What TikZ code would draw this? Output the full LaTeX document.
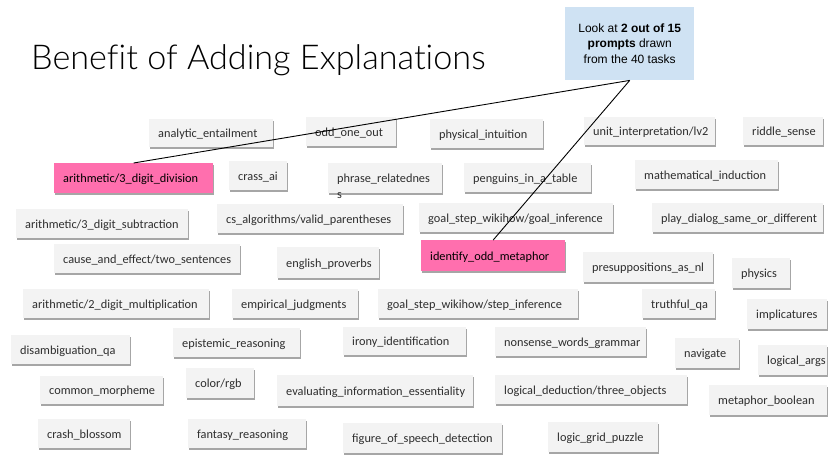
\documentclass[tikz,border=0pt]{standalone}
\usepackage{fontspec}
\setmainfont{Carlito}
\newfontfamily\titlefont[Ligatures=NoCommon]{Lato Light}
\newfontfamily\notefont{Liberation Sans}
\usetikzlibrary{shadows}

\definecolor{boxgray}{HTML}{F3F3F3}
\definecolor{hlpink}{HTML}{FF6FAE}
\definecolor{noteblue}{HTML}{CFE2F3}
\definecolor{labelgray}{HTML}{2E2E2E}

\tikzset{
  taskbox/.style={rectangle, fill=boxgray, anchor=north west, align=left,
    inner xsep=9pt, inner ysep=0pt, text height=10pt, text depth=0.5pt,
    font=\fontsize{12.3}{15}\selectfont, text=labelgray,
    drop shadow={shadow xshift=0.5pt, shadow yshift=-1.3pt, opacity=0.35, fill=black}},
  hlbox/.style={taskbox, fill=hlpink, text=black},
  notebox/.style={rectangle, fill=noteblue, anchor=north west, align=center,
    inner sep=0pt, font=\notefont\fontsize{12}{15.5}\selectfont},
  link/.style={draw=black, line width=0.9pt}
}

% \task[style]{name}{x}{y}{width}{height}{label}
\newcommand\task[7][taskbox]{%
  \pgfmathsetmacro\tasktw{#5-18}%
  \node[#1, minimum width=#5pt, minimum height=#6pt, text width=\tasktw pt] (#2) at (#3,#4) {#7};}

\begin{document}
\begin{tikzpicture}[x=1pt, y=-1pt]
\fill[white] (0,0) rectangle (838,460);
\useasboundingbox (0,0) rectangle (838,460);

\node[anchor=base west, inner sep=0pt, font=\titlefont\fontsize{34.2}{41}\selectfont] (title) at (31,70) {Benefit of Adding Explanations};

\node[notebox, minimum width=129pt, minimum height=73pt] (note) at (565,7)
  {Look at \textbf{2 out of 15}\\\textbf{prompts} drawn\\from the 40 tasks};

% row 1
\task{analytic}{149}{119}{124}{28}{analytic\_entailment}
\task{oddone}{306}{117}{90}{29}{odd\_one\_out}
\task{physint}{430}{119}{113}{29}{physical\_intuition}
\task{unitint}{584}{117}{131}{28}{unit\_interpretation/lv2}
\task{riddle}{743}{117}{80}{28}{riddle\_sense}
% row 2
\task[hlbox]{division}{54}{163}{159}{30}{arithmetic/3\_digit\_division}
\task{crass}{229}{161}{58}{29}{crass\_ai}
\task{phrase}{328}{163}{114}{30}{phrase\_relatednes}
\node[anchor=base west, inner sep=0pt, font=\fontsize{12.3}{15}\selectfont, text=labelgray]
  (phrasetail) at ([xshift=9pt, yshift=-16pt]phrase.base west) {s};
\task{penguins}{464}{163}{127}{29}{penguins\_in\_a\_table}
\task{mathind}{635}{160}{143}{29}{mathematical\_induction}
% row 3
\task{subtraction}{16}{209}{172}{29}{arithmetic/3\_digit\_subtraction}
\task{parens}{217}{204}{186}{29}{cs\_algorithms/valid\_parentheses}
\task{goalinf}{419}{203}{194}{29}{goal\_step\_wikihow/goal\_inference}
\task{dialog}{652}{203}{171}{29}{play\_dialog\_same\_or\_different}
% row 4
\task{cause}{54}{244}{186}{29}{cause\_and\_effect/two\_sentences}
\task{proverbs}{277}{247}{102}{31}{english\_proverbs}
\task[hlbox]{metaphor}{421}{240}{144}{31}{identify\_odd\_metaphor}
\task{presupp}{583}{252}{130}{30}{presuppositions\_as\_nl}
\task{physics}{732}{258}{58}{30}{physics}
% row 5
\task{multiplication}{23}{289}{186}{29}{arithmetic/2\_digit\_multiplication}
\task{empirical}{232}{289}{126}{29}{empirical\_judgments}
\task{stepinf}{378}{289}{200}{29}{goal\_step\_wikihow/step\_inference}
\task{truthful}{642}{289}{73}{29}{truthful\_qa}
\task{implicatures}{747}{299}{80}{30}{implicatures}
% row 6
\task{epistemic}{173}{328}{127}{29}{epistemic\_reasoning}
\task{irony}{343}{327}{123}{28}{irony\_identification}
\task{nonsense}{495}{327}{151}{29}{nonsense\_words\_grammar}
\task{disamb}{11}{335}{119}{29}{disambiguation\_qa}
\task{navigate}{675}{338}{64}{30}{navigate}
\task{logargs}{758}{345}{69}{30}{logical\_args}
% row 7
\task{morpheme}{40}{376}{123}{28}{common\_morpheme}
\task{colorrgb}{186}{368}{68}{30}{color/rgb}
\task{essential}{277}{375}{196}{31}{evaluating\_information\_essentiality}
\task{deduction}{495}{375}{192}{29}{logical\_deduction/three\_objects}
\task{metabool}{709}{385}{118}{30}{metaphor\_boolean}
% row 8
\task{crash}{38}{419}{92}{29}{crash\_blossom}
\task{fantasy}{188}{419}{118}{29}{fantasy\_reasoning}
\task{figure}{343}{423}{159}{30}{figure\_of\_speech\_detection}
\task{gridpuzzle}{548}{422}{110}{30}{logic\_grid\_puzzle}

% connectors from the note to the two sampled tasks
\draw[link] (note.south) -- (division.north);
\draw[link] (note.south) -- (metaphor.north);
\end{tikzpicture}
\end{document}
